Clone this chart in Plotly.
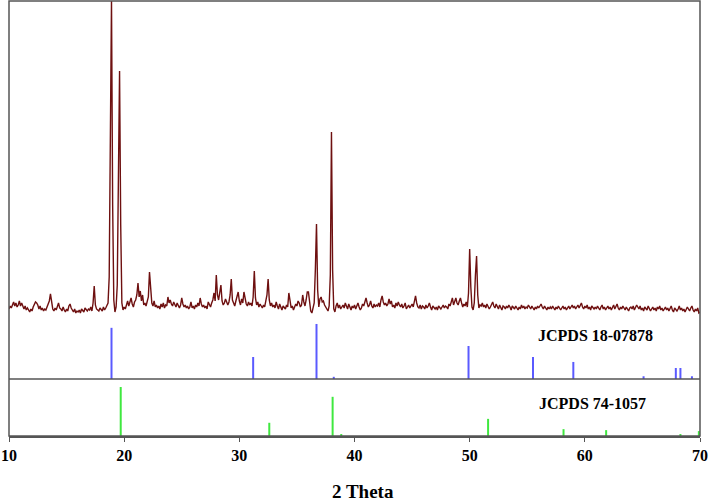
import plotly.graph_objects as go

# Measured XRD pattern (2θ grid at 0.1° step from 10.0 to 70.0), intensity in arbitrary units
two_theta = [round(10 + 0.1 * i, 1) for i in range(601)]
intensity = (
    [6, 9, 7, 11, 13, 9, 12, 8, 10, 14] +          # 10
    [9, 12, 8, 6, 9, 5, 7, 4, 3, 6] +              # 11
    [4, 8, 11, 13, 12, 10, 6, 9, 5, 7] +           # 12
    [4, 6, 5, 8, 10, 14, 21, 12, 6, 4] +           # 13
    [7, 5, 10, 12, 7, 6, 4, 8, 5, 3] +             # 14
    [6, 4, 9, 11, 7, 5, 3, 6, 2, 4] +              # 15
    [3, 5, 2, 6, 4, 3, 7, 5, 4, 6] +               # 16
    [5, 8, 4, 12, 29, 10, 6, 5, 4, 7] +            # 17
    [6, 4, 8, 5, 7, 9, 12, 38, 150, 315] +         # 18
    [110, 15, 3, 8, 30, 150, 244, 90, 12, 5] +     # 19
    [8, 6, 10, 14, 9, 12, 17, 11, 8, 13] +         # 20
    [15, 20, 32, 18, 24, 14, 20, 10, 12, 9] +      # 21
    [13, 18, 43, 22, 12, 9, 14, 8, 10, 7] +        # 22
    [9, 6, 11, 8, 12, 7, 10, 9, 18, 12] +          # 23
    [15, 11, 9, 13, 10, 8, 12, 9, 7, 10] +         # 24
    [17, 11, 8, 10, 7, 9, 6, 8, 13, 7] +           # 25
    [9, 6, 10, 8, 12, 9, 17, 11, 8, 10] +          # 26
    [7, 9, 6, 13, 10, 8, 12, 15, 22, 14] +         # 27
    [40, 20, 15, 22, 30, 14, 10, 12, 16, 13] +     # 28
    [10, 13, 20, 36, 15, 12, 9, 14, 18, 23] +      # 29
    [14, 10, 16, 12, 23, 15, 11, 9, 13, 10] +      # 30
    [12, 9, 18, 44, 17, 10, 13, 8, 11, 9] +        # 31
    [7, 10, 8, 14, 20, 36, 15, 9, 12, 8] +         # 32
    [10, 7, 13, 9, 6, 11, 8, 5, 9, 7] +            # 33
    [6, 10, 8, 22, 12, 7, 9, 5, 8, 11] +           # 34
    [9, 14, 12, 8, 10, 20, 13, 9, 15, 23] +        # 35
    [23, 12, 4, 2, 6, 12, 45, 91, 25, 8] +         # 36
    [16, 18, 13, 14, 10, 8, 6, 4, 9, 40] +         # 37
    [183, 45, 6, 3, 9, 12, 7, 10, 6, 8] +          # 38
    [10, 7, 12, 9, 6, 11, 8, 5, 9, 7] +            # 39
    [10, 6, 9, 12, 8, 5, 7, 11, 9, 13] +           # 40
    [17, 12, 8, 10, 14, 9, 7, 11, 8, 10] +         # 41
    [9, 12, 8, 15, 19, 13, 10, 12, 9, 11] +        # 42
    [16, 11, 14, 8, 10, 7, 12, 9, 13, 10] +        # 43
    [8, 11, 7, 9, 12, 6, 8, 10, 7, 9] +            # 44
    [11, 8, 14, 19, 12, 8, 7, 10, 6, 9] +          # 45
    [8, 6, 10, 7, 9, 12, 8, 5, 9, 7] +             # 46
    [6, 8, 5, 9, 7, 6, 8, 10, 7, 9] +              # 47
    [8, 6, 11, 9, 13, 17, 10, 14, 17, 12] +        # 48
    [10, 14, 17, 12, 8, 11, 9, 13, 8, 22] +        # 49
    [66, 28, 8, 5, 12, 40, 59, 20, 7, 10] +        # 50
    [9, 12, 8, 10, 7, 11, 9, 6, 8, 10] +           # 51
    [13, 9, 7, 11, 8, 6, 10, 8, 5, 9] +            # 52
    [8, 6, 9, 7, 10, 8, 5, 9, 7, 6] +              # 53
    [9, 7, 5, 8, 6, 10, 7, 9, 6, 8] +              # 54
    [7, 10, 8, 6, 9, 7, 5, 8, 6, 9] +              # 55
    [7, 9, 11, 8, 6, 9, 7, 5, 8, 6] +              # 56
    [8, 6, 9, 7, 5, 8, 6, 9, 7, 5] +               # 57
    [7, 9, 6, 8, 5, 7, 9, 6, 8, 10] +              # 58
    [7, 9, 6, 8, 10, 7, 9, 12, 8, 6] +             # 59
    [9, 7, 10, 6, 8, 5, 9, 7, 6, 8] +              # 60
    [6, 9, 7, 5, 8, 10, 6, 8, 5, 7] +              # 61
    [9, 6, 8, 5, 7, 10, 6, 8, 11, 7] +             # 62
    [5, 8, 6, 9, 7, 5, 8, 6, 4, 7] +               # 63
    [8, 6, 9, 5, 7, 10, 8, 6, 9, 5] +              # 64
    [7, 4, 8, 6, 5, 9, 7, 4, 6, 8] +               # 65
    [5, 7, 4, 8, 6, 9, 5, 7, 4, 6] +               # 66
    [8, 5, 7, 4, 6, 9, 5, 3, 7, 5] +               # 67
    [4, 6, 9, 5, 7, 4, 6, 3, 5, 8] +               # 68
    [6, 4, 7, 9, 5, 3, 6, 4, 7, 2] +               # 69
    [3]                                            # 70
)

# Reference pattern JCPDS 18-07878 (blue): positions and relative intensities
ref1_pos = [18.9, 31.2, 36.7, 38.2, 49.9, 55.5, 59.0, 65.1, 67.9, 68.3, 69.3]
ref1_int = [93, 40, 100, 4, 60, 40, 31, 5, 20, 20, 5]
ref1_label = "JCPDS 18-07878"

# Reference pattern JCPDS 74-1057 (green)
ref2_pos = [19.7, 32.6, 38.1, 38.85, 51.6, 58.15, 61.85, 68.3, 69.9]
ref2_int = [100, 27, 80, 4, 35, 14, 12, 4, 10]
ref2_label = "JCPDS 74-1057"

x_ticks = [10, 20, 30, 40, 50, 60, 70]
x_title = "2 Theta"


def sticks(pos, vals):
    xs, ys = [], []
    for p, v in zip(pos, vals):
        xs += [p, p, None]
        ys += [0, v, None]
    return xs, ys


fig = go.Figure()
fig.add_trace(go.Scatter(x=two_theta, y=intensity, mode="lines",
                         line=dict(color="#6e1010", width=1.4),
                         xaxis="x", yaxis="y", showlegend=False))
bx, by = sticks(ref1_pos, ref1_int)
fig.add_trace(go.Scatter(x=bx, y=by, mode="lines",
                         line=dict(color="#5a5aff", width=2),
                         xaxis="x", yaxis="y2", showlegend=False))
gx, gy = sticks(ref2_pos, ref2_int)
fig.add_trace(go.Scatter(x=gx, y=gy, mode="lines",
                         line=dict(color="#3fe83f", width=2),
                         xaxis="x", yaxis="y3", showlegend=False))

serif = "Liberation Serif"
axis_col = "#555555"

fig.update_layout(
    width=713, height=501,
    margin=dict(l=9, r=13, t=1, b=65),
    paper_bgcolor="white", plot_bgcolor="white",
    xaxis=dict(range=[10, 70], tickvals=x_ticks, ticks="outside", ticklen=4,
               tickcolor=axis_col, showgrid=False, zeroline=False,
               showline=True, linecolor=axis_col, linewidth=1.5,
               anchor="y3",
               tickfont=dict(family=serif, size=16, color="black", weight="bold")),
    yaxis=dict(domain=[0.2759, 1.0], range=[-1, 314], visible=False),
    yaxis2=dict(domain=[0.131, 0.2759], range=[0, 114.5], visible=False, anchor="x"),
    yaxis3=dict(domain=[0.0, 0.131], range=[0, 116.3], visible=False, anchor="x"),
    shapes=[
        dict(type="line", xref="paper", yref="paper", x0=0, x1=1, y0=0.131, y1=0.131,
             line=dict(color=axis_col, width=1.5)),
        dict(type="rect", xref="paper", yref="paper", x0=0, x1=1, y0=0, y1=1,
             line=dict(color=axis_col, width=1.5)),
    ],
    annotations=[
        dict(x=60.96, y=0.232, xref="x", yref="paper", text=ref1_label, showarrow=False,
             xanchor="center", yanchor="middle",
             font=dict(family=serif, size=16, color="black", weight="bold")),
        dict(x=60.7, y=0.0736, xref="x", yref="paper", text=ref2_label, showarrow=False,
             xanchor="center", yanchor="middle",
             font=dict(family=serif, size=16, color="black", weight="bold")),
        dict(x=40.77, y=-0.1287, xref="x", yref="paper", text=x_title, showarrow=False,
             xanchor="center", yanchor="middle",
             font=dict(family=serif, size=19, color="black", weight="bold")),
    ],
)

fig.write_html("out.html")
